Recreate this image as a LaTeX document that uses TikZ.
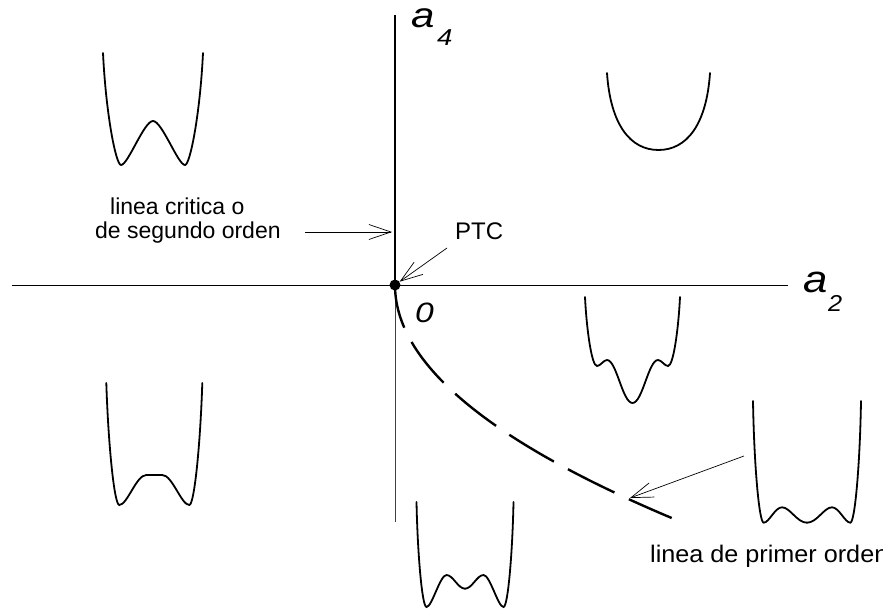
\documentclass[tikz,border=0pt]{standalone}
\usepackage{fontspec}
\usepackage{graphicx}
\setmainfont{Liberation Sans}
\usetikzlibrary{arrows.meta}
\newcommand\potA{(0,44) .. controls (9,44) and (25,0) .. (32,0) .. controls (37,0) and (47,50) .. (50,112)}
\newcommand\potB{(0,0) .. controls (28,0) and (48,25) .. (51.5,77)}
\newcommand\potC{(0,0) .. controls (10,0) and (16,43) .. (25.5,43) .. controls (29,43) and (32,37) .. (35.5,37) .. controls (41,37) and (46,75) .. (47.5,106)}
\newcommand\potD{(0,30) -- (8,30) .. controls (18,30) and (27,0) .. (35,0) .. controls (40,0) and (46,60) .. (48,122)}
\newcommand\potE{(0,18.3) .. controls (7,18.3) and (12,32) .. (18.5,32) .. controls (25,32) and (33,0) .. (38.5,0) .. controls (43,0) and (47.5,55) .. (48.5,105)}
\newcommand\potF{(0,0) .. controls (10,0) and (17,15.4) .. (25,15.4) .. controls (32,15.4) and (38,0) .. (43.3,0) .. controls (48,0) and (53,60) .. (54,121.7)}
\newcommand\drawpot[3]{%
  \begin{scope}[shift={(#1,#2)},yscale=-1]
    \foreach \s in {1,-1}{\draw[pot,xscale=\s] #3;}
  \end{scope}}
\tikzset{
  pot/.style={line width=1.8pt,line cap=round},
  axis/.style={line width=0.9pt},
  arr/.style={line width=0.7pt,-{Straight Barb[length=22pt,width=15pt]}},
  lbl/.style={inner sep=0pt,anchor=base west,font=\fontsize{23}{23}\selectfont},
  var/.style={inner sep=0pt,anchor=base west},
}
\begin{document}
\begin{tikzpicture}[x=1pt,y=-1pt]
\useasboundingbox (0,0) rectangle (883,612);
\clip (0,0) rectangle (883,612);
\fill[white] (0,0) rectangle (883,612);
% axes
\draw[axis] (12,285) -- (788,285);
\draw[line width=0.9pt,black!75] (395,285) -- (395,522);
\draw[line width=2.6pt] (395,15) -- (395,285);
% first-order line
\draw[line width=2.4pt,dash pattern=on 52pt off 16pt,dash phase=8pt]
  plot[domain=285:518,samples=80] ({395+0.0051*(\x-285)*(\x-285)},\x);
\node[circle,fill,inner sep=0pt,minimum size=11pt] (dot) at (395,285) {};
% labels
\node[var,font=\fontsize{35}{35}\selectfont\itshape] (a4a) at (411,28) {\scalebox{1.2}[1]{a}};
\node[var,font=\fontsize{23}{23}\selectfont\itshape] (a4n) at (437,46) {\scalebox{1.2}[1]{4}};
\node[var,font=\fontsize{38}{38}\selectfont\itshape] (a2a) at (803,292) {\scalebox{1.15}[1]{a}};
\node[var,font=\fontsize{23}{23}\selectfont\itshape] (a2n) at (828,311) {\scalebox{1.1}[1]{2}};
\node[var,font=\fontsize{28}{28}\selectfont\itshape] (zero) at (415,322) {\scalebox{1.2}[1]{0}};
\node[lbl] (crit1) at (110,215) {linea critica o};
\node[lbl] (crit2) at (95,239) {de segundo orden};
\node[lbl,font=\fontsize{24}{24}\selectfont] (ptc) at (455,240) {PTC};
\node[lbl,font=\fontsize{24}{24}\selectfont] (prim) at (650,562) {\scalebox{1.05}[1]{linea de primer orden}};
% arrows
\coordinate (critS) at (305,232);
\coordinate (critE) at (392,232);
\coordinate (ptcS) at (447,248);
\coordinate (primS) at (744,456);
\coordinate (primE) at (630,498);
\draw[arr] (critS) -- (critE);
\draw[arr] (ptcS) -- (dot);
\draw[arr] (primS) -- (primE);
% potentials
\drawpot{153}{165}{\potA}
\drawpot{658.5}{150}{\potB}
\drawpot{632.5}{403}{\potC}
\drawpot{154.3}{505}{\potD}
\drawpot{465}{607}{\potE}
\drawpot{807}{522.7}{\potF}
\end{tikzpicture}
\end{document}
